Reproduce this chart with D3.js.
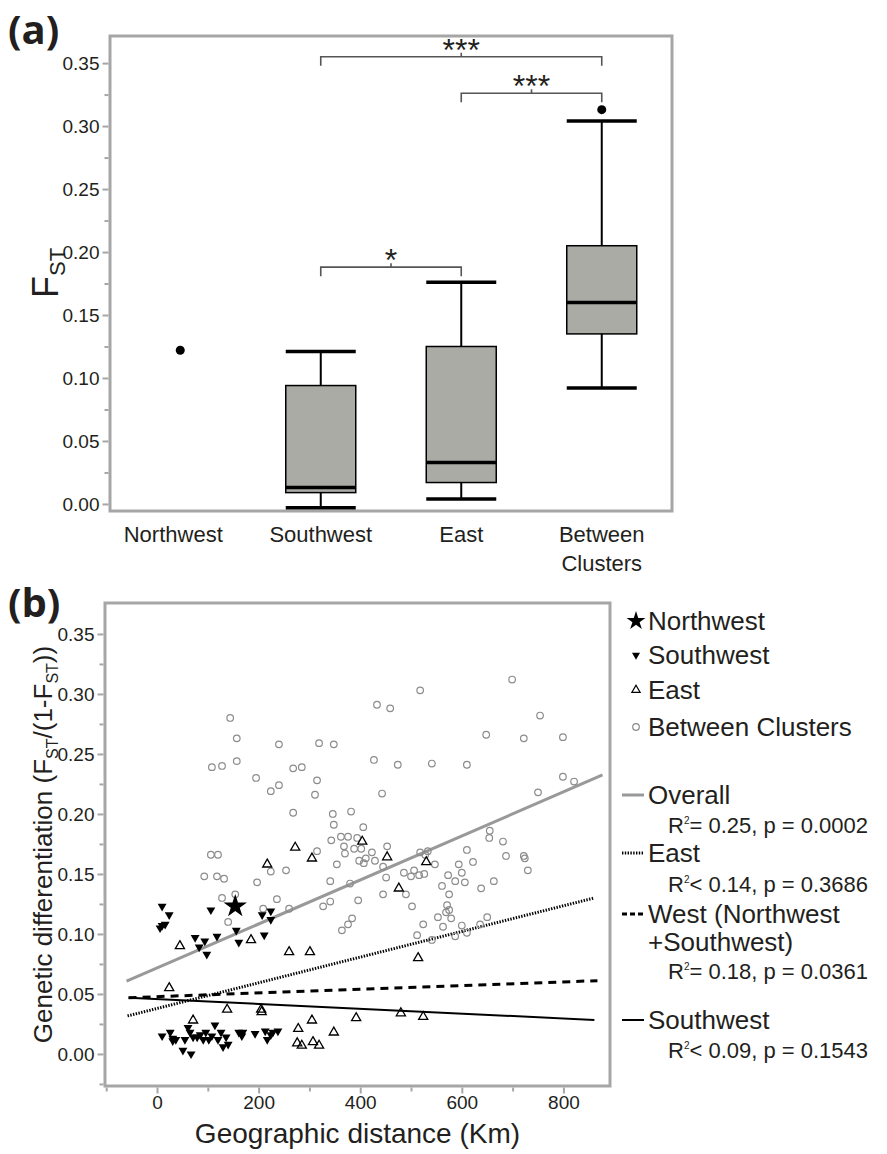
<!DOCTYPE html>
<meta charset="utf-8">
<script src="https://d3js.org/d3.v7.min.js"></script>
<style>
  body { margin: 0; background: #fff; }
  text { font-family: "Liberation Sans", Arial, sans-serif; fill: #231f20; }
</style>
<div id="chart"></div>
<script>

// ---------- panel (a) data ----------
var groups = ["Northwest", "Southwest", "East", "Between Clusters"];
var boxLow    = [null, -0.003, 0.004, 0.092];
var boxQ1     = [null,  0.009, 0.017, 0.135];
var boxMedian = [null,  0.013, 0.033, 0.160];
var boxQ3     = [null,  0.094, 0.125, 0.205];
var boxHigh   = [null,  0.121, 0.176, 0.304];
var outliers  = [["Northwest", 0.122], ["Between Clusters", 0.313]];
// significance brackets: [from, to, level, label]
var brackets  = [["Southwest", "Between Clusters", 0.355, "***"],
                 ["East", "Between Clusters", 0.326, "***"],
                 ["Southwest", "East", 0.188, "*"]];
var yTicksA = [0, 0.05, 0.10, 0.15, 0.20, 0.25, 0.30, 0.35];
var yMinorA = [0.025, 0.075, 0.125, 0.175, 0.225, 0.275, 0.325];

// ---------- panel (b) data : [distance km, Fst/(1-Fst)] ----------
var between = [
  [144,0.280],[157,0.263],[157,0.244],[108,0.239],[128,0.240],[195,0.230],[224,0.219],
  [240,0.224],[240,0.258],[268,0.238],[285,0.239],[319,0.259],[348,0.258],[315,0.228],
  [311,0.216],[268,0.201],[346,0.200],[348,0.191],[382,0.202],[433,0.291],[459,0.288],
  [518,0.303],[427,0.245],[474,0.241],[541,0.242],[443,0.217],[699,0.312],[754,0.282],
  [648,0.266],[722,0.263],[799,0.264],[610,0.241],[799,0.231],[821,0.227],[750,0.218],
  [406,0.189],[362,0.181],[376,0.181],[394,0.180],[343,0.178],[368,0.173],[388,0.171],
  [402,0.171],[315,0.169],[370,0.167],[423,0.168],[453,0.173],[398,0.161],[411,0.163],
  [429,0.161],[407,0.159],[354,0.158],[224,0.152],[254,0.153],[106,0.166],[120,0.166],
  [93,0.148],[118,0.148],[132,0.146],[197,0.143],[341,0.144],[380,0.142],[445,0.156],
  [451,0.147],[445,0.133],[396,0.128],[327,0.123],[341,0.127],[236,0.129],[209,0.121],
  [260,0.121],[128,0.130],[154,0.133],[140,0.110],[384,0.113],[376,0.108],[364,0.103],
  [518,0.168],[533,0.169],[528,0.166],[547,0.158],[486,0.151],[500,0.148],[506,0.153],
  [516,0.149],[526,0.150],[490,0.133],[502,0.123],[561,0.140],[571,0.124],[569,0.118],
  [553,0.114],[573,0.149],[524,0.108],[563,0.106],[512,0.099],[541,0.095],[655,0.186],
  [654,0.180],[681,0.177],[610,0.170],[687,0.165],[724,0.163],[722,0.165],[730,0.153],
  [594,0.158],[622,0.160],[587,0.144],[606,0.143],[600,0.151],[575,0.133],[638,0.138],
  [663,0.144],[579,0.113],[600,0.107],[587,0.098],[610,0.101],[636,0.108],[650,0.114],
  [575,0.120]
];
var east = [
  [272,0.172],[305,0.163],[404,0.177],[453,0.164],[530,0.160],[217,0.158],[476,0.138],
  [45,0.090],[185,0.095],[260,0.085],[301,0.085],[514,0.080],[24,0.055],[138,0.037],
  [205,0.037],[206,0.035],[71,0.028],[305,0.028],[278,0.021],[392,0.030],[480,0.034],
  [524,0.031],[348,0.018],[276,0.009],[285,0.007],[307,0.010],[319,0.007]
];
var southwest = [
  [10,0.123],[24,0.116],[10,0.107],[16,0.108],[6,0.105],[106,0.120],[207,0.116],
  [224,0.119],[224,0.112],[156,0.103],[75,0.097],[94,0.094],[118,0.098],[83,0.089],
  [98,0.083],[161,0.093],[211,0.099],
  [10,0.015],[26,0.018],[31,0.013],[37,0.012],[31,0.011],[51,0.003],[67,0.000],
  [55,0.012],[61,0.022],[65,0.018],[71,0.014],[79,0.014],[85,0.016],[91,0.012],
  [96,0.018],[102,0.012],[108,0.015],[114,0.024],[120,0.012],[126,0.018],[130,0.006],
  [140,0.008],[136,0.014],[161,0.018],[167,0.015],[169,0.018],[193,0.017],[213,0.019],
  [217,0.012],[224,0.016],[228,0.018],[238,0.019]
];
var northwest = [[154,0.123]];

// regression lines: [name, x0, y0, x1, y1]
var fits = [["Overall", -60, 0.0606, 877, 0.2325],
            ["East", -58, 0.0317, 859, 0.1298],
            ["West", -56, 0.0469, 867, 0.0611],
            ["Southwest", -56, 0.0469, 861, 0.0283]];
var fitStats = ["= 0.25, p = 0.0002", "< 0.14, p = 0.3686", "= 0.18, p = 0.0361", "< 0.09, p = 0.1543"];
var pointLegend = ["Northwest", "Southwest", "East", "Between Clusters"];
var xTicksB = [0, 200, 400, 600, 800];
var xMinorB = [-100, 100, 300, 500, 700];
var yTicksB = [0, 0.05, 0.10, 0.15, 0.20, 0.25, 0.30, 0.35];
var yMinorB = [-0.025, 0.025, 0.075, 0.125, 0.175, 0.225, 0.275, 0.325];

var svg = d3.select("#chart").append("svg")
    .attr("width", 887).attr("height", 1154);

function styleAxis(g) {
  g.select(".domain").remove();
  g.selectAll(".tick line").attr("stroke", "#a6a6a6").attr("stroke-width", 2);
  g.selectAll(".tick text").style("font-size", "19px").attr("fill", "#231f20");
}

// ================= panel (a) =================
var A = {left: 110, right: 672, top: 36, bottom: 511};
var xA = d3.scaleBand().domain(groups).range([A.left, A.right]);
var yA = d3.scaleLinear().domain([-0.0056, 0.3715]).range([A.bottom, A.top]);
var cx = function(g) { return xA(g) + xA.bandwidth() / 2; };
var bw = 70;

svg.append("text").attr("x", 8).attr("y", 44)
   .style("font-family", "'Open Sans', sans-serif").style("font-weight", "bold")
   .style("font-size", "40px").text("(a)");

svg.append("rect").attr("x", A.left).attr("y", A.top)
   .attr("width", A.right - A.left).attr("height", A.bottom - A.top)
   .attr("fill", "none").attr("stroke", "#a6a6a6").attr("stroke-width", 3);

svg.append("g").attr("transform", "translate(" + (A.left - 1.5) + ",0)")
   .call(d3.axisLeft(yA).tickValues(yTicksA).tickSize(6).tickPadding(3).tickFormat(d3.format(".2f")))
   .call(styleAxis);
svg.append("g").attr("transform", "translate(" + (A.left - 1.5) + ",0)")
   .call(d3.axisLeft(yA).tickValues(yMinorA).tickSize(4).tickFormat(""))
   .call(styleAxis);

// y label F_ST
var fl = svg.append("text").attr("transform", "translate(58,298) rotate(-90)")
   .style("font-size", "36px");
fl.append("tspan").text("F");
fl.append("tspan").attr("dy", 7).style("font-size", "22px").text("ST");

// category labels
groups.forEach(function(g) {
  var t = svg.append("text").attr("x", cx(g)).attr("y", 542)
     .attr("text-anchor", "middle").style("font-size", "22px");
  var parts = g.split(" ");
  parts.forEach(function(p, i) {
    t.append("tspan").attr("x", cx(g) - (g === "Northwest" ? 7 : 0)).attr("dy", i ? 29 : 0).text(p);
  });
});

// boxes
groups.forEach(function(g, i) {
  if (boxQ1[i] === null) return;
  var x = cx(g);
  var gg = svg.append("g");
  gg.append("line").attr("x1", x).attr("x2", x)
    .attr("y1", yA(boxHigh[i])).attr("y2", yA(boxLow[i]))
    .attr("stroke", "#000").attr("stroke-width", 2);
  [boxHigh[i], boxLow[i]].forEach(function(v) {
    gg.append("line").attr("x1", x - bw / 2).attr("x2", x + bw / 2)
      .attr("y1", yA(v)).attr("y2", yA(v))
      .attr("stroke", "#000").attr("stroke-width", 3.5);
  });
  gg.append("rect").attr("x", x - bw / 2).attr("width", bw)
    .attr("y", yA(boxQ3[i])).attr("height", yA(boxQ1[i]) - yA(boxQ3[i]))
    .attr("fill", "#aaaba5").attr("stroke", "#000").attr("stroke-width", 1.5);
  gg.append("line").attr("x1", x - bw / 2).attr("x2", x + bw / 2)
    .attr("y1", yA(boxMedian[i])).attr("y2", yA(boxMedian[i]))
    .attr("stroke", "#000").attr("stroke-width", 3.5);
});

svg.selectAll(".outlier").data(outliers).enter().append("circle")
   .attr("cx", function(d) { return cx(d[0]); })
   .attr("cy", function(d) { return yA(d[1]); })
   .attr("r", 4.5).attr("fill", "#000");

// brackets
brackets.forEach(function(b) {
  var x0 = cx(b[0]), x1 = cx(b[1]), y = yA(b[2]);
  svg.append("path")
     .attr("d", "M" + x0 + "," + (y + 9) + "V" + y + "H" + x1 + "V" + (y + 9)
              + "M" + ((x0 + x1) / 2) + "," + y + "v-4")
     .attr("fill", "none").attr("stroke", "#555").attr("stroke-width", 1.6);
  svg.append("text").attr("x", (x0 + x1) / 2).attr("y", y + 4)
     .attr("text-anchor", "middle").style("font-size", "32px").text(b[3]);
});

// ================= panel (b) =================
var B = {left: 105, right: 610, top: 603, bottom: 1086};
var xB = d3.scaleLinear().domain([-102.4, 891.7]).range([B.left, B.right]);
var yB = d3.scaleLinear().domain([-0.0267, 0.3758]).range([B.bottom, B.top]);

svg.append("text").attr("x", 8).attr("y", 617)
   .style("font-family", "'Open Sans', sans-serif").style("font-weight", "bold")
   .style("font-size", "40px").text("(b)");

svg.append("rect").attr("x", B.left).attr("y", B.top)
   .attr("width", B.right - B.left).attr("height", B.bottom - B.top)
   .attr("fill", "none").attr("stroke", "#a6a6a6").attr("stroke-width", 3);

svg.append("g").attr("transform", "translate(" + (B.left - 1.5) + ",0)")
   .call(d3.axisLeft(yB).tickValues(yTicksB).tickSize(6).tickPadding(3).tickFormat(d3.format(".2f")))
   .call(styleAxis);
svg.append("g").attr("transform", "translate(" + (B.left - 1.5) + ",0)")
   .call(d3.axisLeft(yB).tickValues(yMinorB).tickSize(4).tickFormat(""))
   .call(styleAxis);
svg.append("g").attr("transform", "translate(0," + (B.bottom + 1.5) + ")")
   .call(d3.axisBottom(xB).tickValues(xTicksB).tickSize(6).tickPadding(2))
   .call(styleAxis);
svg.append("g").attr("transform", "translate(0," + (B.bottom + 1.5) + ")")
   .call(d3.axisBottom(xB).tickValues(xMinorB).tickSize(4).tickFormat(""))
   .call(styleAxis);

svg.append("text").attr("x", (B.left + B.right) / 2).attr("y", 1143)
   .attr("text-anchor", "middle").style("font-size", "28px")
   .text("Geographic distance (Km)");

var yl = svg.append("text").attr("transform", "translate(52," + ((B.top + B.bottom) / 2) + ") rotate(-90)")
   .attr("text-anchor", "middle").style("font-size", "26px");
yl.append("tspan").text("Genetic differentiation (F");
yl.append("tspan").attr("dy", 6).style("font-size", "16px").text("ST");
yl.append("tspan").attr("dy", -6).text("/(1-F");
yl.append("tspan").attr("dy", 6).style("font-size", "16px").text("ST");
yl.append("tspan").attr("dy", -6).text("))");

// fit lines
var fitStyle = {
  Overall:   {stroke: "#999", width: 3, dash: null},
  East:      {stroke: "#000", width: 3, dash: "1.4,1.4"},
  West:      {stroke: "#000", width: 3, dash: "8,6"},
  Southwest: {stroke: "#000", width: 2, dash: null}
};
var plot = svg.append("g");
plot.selectAll(".fit").data(fits).enter().append("line")
   .attr("x1", function(d) { return xB(d[1]); }).attr("y1", function(d) { return yB(d[2]); })
   .attr("x2", function(d) { return xB(d[3]); }).attr("y2", function(d) { return yB(d[4]); })
   .attr("stroke", function(d) { return fitStyle[d[0]].stroke; })
   .attr("stroke-width", function(d) { return fitStyle[d[0]].width; })
   .attr("stroke-dasharray", function(d) { return fitStyle[d[0]].dash; });

// points
plot.selectAll(".bc").data(between).enter().append("circle")
   .attr("cx", function(d) { return xB(d[0]); }).attr("cy", function(d) { return yB(d[1]); })
   .attr("r", 3.3).attr("fill", "none").attr("stroke", "#8c8c8c").attr("stroke-width", 1.2);

var tri = d3.symbol().type(d3.symbolTriangle).size(36);
plot.selectAll(".east").data(east).enter().append("path")
   .attr("d", tri)
   .attr("transform", function(d) { return "translate(" + xB(d[0]) + "," + yB(d[1]) + ")"; })
   .attr("fill", "none").attr("stroke", "#000").attr("stroke-width", 1.3);

var triDown = d3.symbol().type(d3.symbolTriangle).size(34);
plot.selectAll(".sw").data(southwest).enter().append("path")
   .attr("d", triDown)
   .attr("transform", function(d) { return "translate(" + xB(d[0]) + "," + yB(d[1]) + ") rotate(180)"; })
   .attr("fill", "#000");

var star = d3.symbol().type(d3.symbolStar).size(170);
plot.selectAll(".nw").data(northwest).enter().append("path")
   .attr("d", star)
   .attr("transform", function(d) { return "translate(" + xB(d[0]) + "," + yB(d[1]) + ")"; })
   .attr("fill", "#000");

// legend: point symbols
var legY = [630, 664, 699, 736];
var legMarks = [
  function(g) { g.append("path").attr("d", d3.symbol().type(d3.symbolStar).size(110)).attr("fill", "#000"); },
  function(g) { g.append("path").attr("d", d3.symbol().type(d3.symbolTriangle).size(28)).attr("transform", "rotate(180)").attr("fill", "#000"); },
  function(g) { g.append("path").attr("d", d3.symbol().type(d3.symbolTriangle).size(30)).attr("fill", "none").attr("stroke", "#000").attr("stroke-width", 1.2); },
  function(g) { g.append("circle").attr("r", 3.3).attr("fill", "none").attr("stroke", "#8c8c8c").attr("stroke-width", 1.2); }
];
pointLegend.forEach(function(name, i) {
  var g = svg.append("g").attr("transform", "translate(636," + (legY[i] - 9) + ")");
  legMarks[i](g);
  svg.append("text").attr("x", 648).attr("y", legY[i]).style("font-size", "26px").text(name);
});

// legend: fit lines
var fitTitleY = [[804], [862], [923, 951], [1029]];
var fitStatY = [833, 892, 979, 1058];
var fitTitles = [["Overall"], ["East"], ["West (Northwest", "+Southwest)"], ["Southwest"]];
fits.forEach(function(f, i) {
  var s = fitStyle[f[0]];
  var ly = fitTitleY[i][0] - 9;
  svg.append("line").attr("x1", 622).attr("x2", 644).attr("y1", ly).attr("y2", ly)
     .attr("stroke", s.stroke).attr("stroke-width", s.width)
     .attr("stroke-dasharray", f[0] === "West" ? "5,3" : s.dash);
  fitTitles[i].forEach(function(t, j) {
    svg.append("text").attr("x", 648).attr("y", fitTitleY[i][j]).style("font-size", "26px").text(t);
  });
  var st = svg.append("text").attr("x", 668).attr("y", fitStatY[i]).style("font-size", "22px");
  st.append("tspan").text("R");
  st.append("tspan").attr("dy", -9).style("font-size", "10px").text("2");
  st.append("tspan").attr("dy", 9).text(fitStats[i]);
});

</script>
